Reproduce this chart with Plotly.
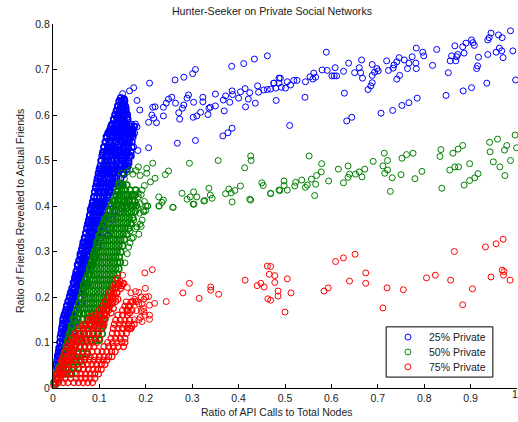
import plotly.graph_objects as go

blue_dense = [
(.004,.012),(.006,.03),(.008,.045),(.010,.06),(.012,.07),(.014,.085),(.016,.10),(.018,.12),(.020,.135),(.022,.15),(.024,.16),(.026,.165),(.028,.172),(.030,.18),(.033,.19),(.036,.20),(.040,.21),(.043,.215),(.046,.23),(.048,.245),(.050,.255),(.053,.27),(.056,.28),(.059,.295),(.062,.305),(.065,.32),(.068,.33),(.071,.34),(.074,.35),(.077,.365),(.080,.38),(.083,.395),(.086,.41),(.089,.42),(.092,.44),(.095,.455),(.098,.465),(.101,.48),(.104,.50),(.107,.515),(.110,.53),(.113,.54),(.116,.55),(.119,.56),(.122,.565),(.125,.575),(.128,.58),(.131,.59),(.134,.60),(.137,.61),(.140,.62),(.143,.63),(.146,.638),
(.012,.04),(.016,.07),(.021,.10),(.024,.125),(.029,.14),(.033,.16),(.038,.175),(.042,.19),(.047,.205),(.051,.225),(.055,.245),(.059,.26),(.063,.275),(.067,.295),(.071,.31),(.075,.325),(.079,.345),(.083,.36),(.087,.375),(.091,.395),(.095,.41),(.099,.43),(.103,.45),(.107,.47),(.111,.49),(.115,.51),(.119,.525),(.123,.54),(.127,.555),(.131,.57),(.135,.58),(.139,.595),(.143,.605),(.147,.615),(.151,.625),(.153,.635),
(.02,.06),(.026,.09),(.031,.115),(.036,.135),(.041,.155),(.046,.17),(.051,.19),(.056,.21),(.061,.23),(.066,.25),(.071,.27),(.076,.29),(.081,.305),(.086,.325),(.091,.345),(.096,.365),(.101,.385),(.106,.405),(.111,.43),(.116,.45),(.121,.475),(.126,.50),(.131,.52),(.136,.54),(.141,.555),(.146,.57),(.151,.585),(.155,.60),(.149,.60),(.144,.585),
(.03,.07),(.037,.10),(.043,.125),(.049,.145),(.055,.165),(.061,.185),(.067,.205),(.073,.23),(.079,.25),(.085,.27),(.091,.29),(.097,.31),(.103,.33),(.109,.355),(.115,.38),(.121,.405),(.127,.43),(.133,.455),(.139,.48),(.145,.505),(.150,.525),(.155,.545),(.159,.56),(.154,.575),(.137,.505),(.142,.53),(.147,.55),(.128,.475),(.122,.445),
(.098,.34),(.104,.36),(.110,.385),(.116,.41),(.122,.43),(.128,.455),(.134,.475),(.140,.50),(.146,.52),(.151,.50),(.156,.52),(.161,.54),(.165,.555),(.170,.565),(.175,.575),(.161,.515),(.157,.495),(.163,.494),(.168,.51),(.153,.47),(.148,.445),(.143,.425),(.138,.405),(.133,.39),(.128,.37),(.123,.35),(.118,.335),(.159,.535),(.162,.57),(.167,.575),(.172,.558),(.145,.545),(.150,.565),(.156,.58),(.160,.595),(.148,.58),(.152,.605),(.157,.615),(.150,.615),(.154,.63),
(.085,.30),(.09,.32),(.095,.335),(.10,.355),(.105,.375),(.112,.40),(.118,.425),(.124,.46),(.13,.49),(.135,.515),(.14,.535),(.144,.56),(.147,.59),(.125,.525),(.12,.50),(.115,.475),(.11,.455),(.105,.43),(.10,.405),(.095,.385),(.09,.365),(.085,.345),(.08,.325),(.075,.305),(.07,.285),(.065,.265),(.06,.245),(.055,.225),(.05,.205),(.045,.185),(.04,.165),(.035,.145),(.03,.125),(.025,.105),(.02,.08),(.015,.05),
]
# Dense interior of the blue band, read as rows: (ratio of friends, [ratio of API calls ...])
blue_rows = [
(.052,[.007,.012,.018]),(.071,[.010,.016,.022]),(.088,[.013,.019,.026]),(.112,[.016,.022,.030]),(.129,[.019,.026,.033]),(.152,[.022,.029,.037]),(.168,[.028,.034,.041]),(.191,[.033,.039,.046]),(.209,[.038,.044,.051]),(.232,[.044,.050,.057,.064]),(.248,[.049,.056,.063]),(.272,[.054,.061,.068,.075]),(.289,[.059,.066,.073]),(.312,[.064,.071,.078,.085]),(.328,[.069,.076,.083]),(.352,[.073,.080,.087,.094]),(.369,[.077,.084,.091]),(.392,[.081,.088,.095,.102,.11]),(.408,[.086,.093,.100,.108]),(.431,[.090,.097,.104,.112,.12]),(.449,[.094,.101,.109,.117,.126,.134]),(.472,[.098,.105,.113,.122,.131,.14,.15]),(.488,[.102,.110,.118,.127,.136,.145,.154,.161]),(.511,[.106,.114,.122,.131,.14,.149,.158,.165]),(.529,[.110,.118,.127,.135,.144,.153,.162,.17]),(.552,[.115,.123,.131,.139,.148,.157,.166,.172]),(.568,[.123,.130,.138,.146,.155,.163,.172]),(.591,[.131,.138,.146,.153,.161]),(.609,[.137,.143,.150,.157]),(.631,[.143,.148,.154]),
(.061,[.009,.015,.021]),(.079,[.012,.018,.025]),(.101,[.015,.021,.028]),(.121,[.018,.025,.032]),(.142,[.021,.028,.035]),(.159,[.025,.032,.039]),(.181,[.030,.037,.044]),(.201,[.036,.042,.049]),(.219,[.041,.047,.054,.061]),(.241,[.047,.053,.060,.067]),(.259,[.052,.058,.065,.072]),(.279,[.057,.064,.071,.078]),(.301,[.062,.069,.076,.083]),(.319,[.067,.074,.081,.088]),(.341,[.071,.078,.085,.092]),(.361,[.075,.082,.089,.096]),(.379,[.079,.086,.093,.100,.107]),(.401,[.084,.091,.098,.105,.113]),(.419,[.088,.095,.102,.110,.118]),(.441,[.092,.099,.107,.115,.123,.131]),(.461,[.096,.103,.111,.119,.128,.137,.146]),(.481,[.100,.108,.116,.125,.134,.143,.152,.159]),(.499,[.104,.112,.120,.129,.138,.147,.156,.163]),(.519,[.108,.116,.125,.133,.142,.151,.160,.168]),(.541,[.113,.121,.129,.137,.146,.155,.164,.17]),(.561,[.119,.127,.135,.143,.152,.160,.169]),(.579,[.127,.134,.142,.150,.158,.168]),(.601,[.134,.141,.148,.155,.160]),(.619,[.140,.146,.152,.156]),
]
blue_sparse = [
(.986,.785),(.944,.780),(.960,.776),(.940,.770),(.968,.770),(.937,.765),(.902,.765),(.905,.759),(.908,.753),(.890,.758),(.883,.750),(.866,.752),(.827,.744),(.783,.747),(.797,.738),(.799,.730),(.589,.738),(.991,.741),(.962,.747),(.967,.741),(.955,.738),(.937,.733),(.970,.726),(.917,.727),(.915,.708),(.913,.702),(.886,.736),(.872,.733),(.859,.730),(.856,.719),(.868,.719),(.870,.728),(.818,.709),(.852,.693),(.774,.728),(.782,.714),(.767,.714),(.764,.702),(.783,.702),(.757,.721),(.746,.726),(.741,.717),(.735,.710),(.733,.703),(.723,.698),(.719,.719),(.747,.687),(.741,.679),(.665,.721),(.637,.714),(.608,.704),(.580,.699),(.591,.698),(.562,.692),(.554,.684),(.560,.679),(.566,.683),(.544,.673),(.526,.676),(.519,.676),(.512,.666),(.505,.673),(.490,.681),(.476,.670),(.487,.670),(.480,.659),(.469,.657),(.501,.659),(.492,.661),(.626,.696),(.650,.693),(.660,.704),(.663,.693),(.667,.681),(.688,.711),(.698,.702),(.701,.697),(.693,.694),(.688,.687),(.688,.671),(.685,.664),(.679,.656),(.628,.648),(.543,.639),(.481,.632),(.606,.686),(.601,.686),(.611,.686),(.510,.577),(.633,.587),(.644,.595),(.707,.604),(.732,.610),(.752,.621),(.767,.627),(.785,.637),(.847,.643),(.884,.653),(.902,.660),(.935,.670),(.997,.677),
(.462,.730),(.434,.723),(.411,.713),(.385,.707),(.307,.700),(.301,.691),(.282,.683),(.263,.677),(.208,.670),(.174,.660),(.165,.653),(.150,.647),(.181,.632),(.187,.611),(.441,.664),(.424,.649),(.443,.650),(.414,.658),(.404,.651),(.386,.653),(.387,.645),(.400,.637),(.421,.635),(.415,.618),(.436,.626),(.476,.670),(.487,.681),(.454,.655),(.462,.656),(.350,.646),(.372,.642),(.367,.633),(.381,.628),(.369,.609),(.350,.620),(.339,.617),(.323,.639),(.323,.629),(.292,.644),(.289,.637),(.303,.628),(.256,.639),(.249,.635),(.244,.626),(.238,.617),(.264,.626),(.282,.622),(.279,.615),(.271,.605),(.238,.598),(.273,.591),(.302,.595),(.310,.598),(.318,.606),(.334,.601),(.336,.615),(.220,.618),(.215,.617),(.213,.600),(.217,.593),(.206,.584),(.223,.583),(.366,.554),(.377,.561),(.386,.571),(.307,.544),(.268,.538),(.206,.528),(.183,.522),
(.178,.58),(.181,.574),(.176,.56),(.174,.53),
]
green_dense = [
(.002,.012),(.006,.008),(.010,.02),(.014,.035),(.018,.05),(.022,.065),(.026,.08),(.030,.095),(.034,.11),(.038,.125),(.042,.135),(.047,.15),(.052,.171),(.056,.185),(.060,.20),(.064,.215),(.068,.23),(.072,.24),(.077,.248),(.081,.265),(.085,.28),(.088,.295),(.091,.303),(.095,.32),(.099,.335),(.103,.35),(.108,.36),(.112,.37),(.116,.376),(.120,.39),(.125,.40),(.130,.41),(.134,.413),(.138,.431),(.143,.45),
(.148,.395),(.154,.41),(.160,.425),(.166,.435),(.172,.425),(.178,.435),(.158,.395),(.164,.41),(.170,.40),(.176,.41),
]
# Dense interior of the green band, as rows
green_rows = [
(.031,[.006,.014,.022,.03,.04]),(.059,[.02,.03,.04,.05,.06]),(.091,[.028,.038,.048,.058,.068]),(.119,[.036,.046,.056,.066,.076,.086,.096,.106]),(.152,[.044,.054,.064,.074,.084,.094,.104,.112]),(.174,[.052,.06,.068,.076,.084,.092,.10,.108,.116]),(.198,[.06,.068,.076,.084,.092,.10,.108,.116,.122]),(.226,[.066,.074,.082,.09,.098,.106,.114,.122,.129]),(.249,[.075,.083,.091,.099,.107,.115,.123,.131,.139]),(.276,[.083,.091,.099,.107,.115,.123,.131,.139,.145]),(.299,[.09,.098,.106,.114,.122,.13,.138,.146]),(.326,[.098,.106,.114,.122,.13,.138,.146,.154]),(.351,[.107,.115,.123,.131,.139,.147,.155,.163]),(.374,[.116,.124,.132,.14,.148,.156,.164,.172]),(.401,[.126,.134,.142,.15,.158,.166,.174,.18]),(.424,[.136,.144,.152,.16,.168,.176]),(.446,[.143,.151,.159]),
(.045,[.012,.022,.034,.045,.055]),(.075,[.024,.034,.044,.054,.064,.074]),(.105,[.032,.042,.052,.062,.072,.082,.092,.1]),(.136,[.04,.05,.06,.07,.08,.09,.10,.108]),(.163,[.048,.057,.066,.075,.084,.093,.102,.11]),(.186,[.056,.064,.072,.08,.088,.096,.104,.112,.119]),(.212,[.063,.071,.079,.087,.095,.103,.111,.119,.126]),(.238,[.071,.079,.087,.095,.103,.111,.119,.127,.135]),(.262,[.079,.087,.095,.103,.111,.119,.127,.135,.142]),(.288,[.087,.095,.103,.111,.119,.127,.135,.143]),(.312,[.094,.102,.11,.118,.126,.134,.142,.15]),(.338,[.103,.111,.119,.127,.135,.143,.151,.159]),(.362,[.112,.12,.128,.136,.144,.152,.16,.168]),(.388,[.121,.129,.137,.145,.153,.161,.169,.177]),(.412,[.131,.139,.147,.155,.163,.171]),(.435,[.14,.148,.156]),
]
green_sparse = [
(.215,.494),(.184,.486),(.202,.483),(.294,.494),(.356,.500),(.426,.510),(.427,.500),(.413,.484),(.450,.451),(.453,.445),(.469,.427),(.487,.435),(.404,.444),(.379,.437),(.392,.434),(.384,.429),(.372,.427),(.386,.409),(.424,.415),(.336,.439),(.278,.428),(.289,.415),(.303,.431),(.296,.420),(.310,.420),(.302,.404),(.325,.411),(.339,.424),(.343,.417),(.228,.420),(.238,.413),(.235,.408),(.229,.400),(.259,.397),(.204,.400),(.220,.461),(.210,.453),(.197,.445),(.192,.435),(.184,.428),(.249,.477),(.242,.469),(.188,.467),(.202,.472),(.258,.397),(.228,.400),(.327,.412),(.304,.404),(.426,.413),
(.996,.556),(.958,.547),(.941,.540),(.999,.528),(.978,.533),(.973,.523),(.942,.519),(.986,.500),(.949,.497),(.963,.486),(.974,.467),(.916,.471),(.909,.462),(.898,.456),(.886,.446),(.898,.493),(.874,.486),(.866,.486),(.855,.479),(.838,.439),(.883,.533),(.873,.525),(.862,.516),(.836,.524),(.834,.509),(.795,.476),(.780,.460),(.776,.516),(.762,.513),(.752,.505),(.750,.469),(.714,.516),(.721,.500),(.711,.488),(.721,.479),(.715,.472),(.731,.462),(.727,.432),(.690,.498),(.672,.481),(.660,.475),(.652,.470),(.666,.464),(.639,.470),(.636,.488),(.615,.481),(.636,.463),(.626,.451),(.594,.455),(.579,.493),(.578,.475),(.568,.467),(.552,.510),(.557,.459),(.566,.448),(.564,.423),(.548,.446),(.544,.441),(.536,.457),(.523,.452),(.521,.444),(.505,.435),(.498,.455),(.498,.445),(.489,.434),(.469,.428),
(.148,.472),(.154,.46),(.160,.475),(.166,.479),(.172,.47),(.179,.478),(.184,.42),(.190,.425),(.197,.41),(.182,.395),(.188,.405),(.195,.39),(.200,.40),
(.173,.331),(.185,.338),(.192,.369),(.196,.387),(.204,.400),(.186,.384),(.174,.369),(.181,.354),(.170,.329),(.166,.345),(.169,.36),(.178,.35),(.190,.355),(.200,.39),(.155,.275),(.160,.295),(.163,.31),(.166,.319),(.188,.36),
]
red_dense = [
(.002,.006),(.005,.012),(.008,.025),(.011,.018),(.014,.035),(.017,.045),(.020,.03),(.023,.061),(.026,.05),(.029,.07),(.032,.06),(.035,.085),(.038,.075),(.041,.098),(.044,.085),(.047,.11),(.050,.095),(.053,.115),(.056,.105),(.059,.12),(.062,.11),(.065,.13),(.068,.12),(.071,.14),(.074,.13),(.077,.15),(.080,.157),(.083,.14),(.086,.15),(.090,.135),(.093,.155),(.096,.145),(.102,.157),(.105,.14),(.108,.15),(.112,.165),(.116,.16),(.120,.171),(.122,.18),(.124,.193),(.127,.185),(.129,.20),(.131,.208),(.134,.221),(.137,.21),(.139,.241),(.142,.225),(.145,.234),(.148,.225),(.140,.195),(.135,.19),(.130,.175),(.125,.165),
(.152,.091),(.155,.10),(.165,.13),(.170,.136),(.175,.14),(.165,.165),(.160,.17),(.166,.18),(.172,.19),
]
# Dense interior of the two red lobes, as rows
red_rows = [
(.012,[.004,.012,.022,.032,.045,.055,.065,.075,.085]),(.031,[.01,.018,.026,.036,.05,.06,.07,.08,.09,.098]),(.052,[.016,.024,.032,.042,.052,.064,.074,.084,.094,.104,.112]),(.069,[.022,.03,.04,.05,.06,.07,.08,.09,.10,.11,.12,.127]),(.091,[.03,.038,.048,.058,.068,.078,.088,.11,.12,.13,.14]),(.109,[.04,.05,.06,.07,.08,.09,.10,.125,.135,.145,.155]),(.131,[.056,.066,.076,.086,.096,.106,.13,.14,.15,.16,.168]),(.149,[.08,.09,.10,.11,.135,.145,.155,.165]),(.171,[.10,.108,.116,.15,.16,.17]),(.189,[.112,.12,.128,.158,.168]),(.209,[.122,.13,.138]),(.229,[.135,.143,.151]),
(.021,[.007,.016,.026,.038,.05,.06,.07,.08,.09]),(.041,[.013,.021,.03,.04,.055,.066,.076,.086,.096,.104]),(.061,[.019,.027,.036,.046,.056,.068,.078,.088,.098,.108,.116]),(.08,[.026,.034,.044,.054,.064,.074,.084,.096,.106,.116,.126,.134]),(.1,[.036,.044,.054,.064,.074,.084,.094,.118,.128,.138,.148]),(.12,[.048,.058,.068,.078,.088,.098,.128,.138,.148,.158]),(.14,[.066,.078,.09,.102,.11,.132,.143,.153,.163]),(.16,[.09,.1,.11,.14,.15,.16]),(.18,[.106,.114,.122,.155,.163]),(.199,[.118,.126,.134]),(.219,[.128,.136,.146]),
]
red_sparse = [
(.970,.327),(.955,.317),(.932,.310),(.865,.300),(.651,.294),(.626,.286),(.609,.278),(.674,.253),(.674,.230),(.639,.235),(.593,.220),(.584,.213),(.720,.220),(.755,.216),(.711,.176),(.805,.242),(.824,.248),(.857,.237),(.904,.218),(.883,.183),(.944,.244),(.968,.259),(.972,.256),(.971,.248),(.985,.237),(.505,.240),(.478,.247),(.478,.232),(.485,.213),(.485,.202),(.513,.209),(.500,.167),(.469,.193),(.469,.267),
(.414,.237),(.440,.225),(.448,.230),(.294,.230),(.280,.209),(.315,.197),(.340,.222),(.340,.215),(.357,.206),(.244,.190),(.214,.260),(.198,.253),(.455,.222),(.462,.268),(.466,.250),(.463,.196),
(.150,.248),(.153,.23),(.160,.221),(.175,.15),(.185,.15),(.18,.17),(.19,.17),(.178,.19),(.168,.209),
(.178,.212),(.176,.195),(.182,.19),(.185,.185),(.190,.20),(.185,.21),(.192,.146),(.188,.155),(.196,.168),(.199,.219),(.206,.201),(.219,.186),(.208,.182),(.208,.160),(.208,.151),(.192,.185),(.196,.195),(.200,.20),(.195,.175),(.198,.16),
]
series_names = ["25% Private", "50% Private", "75% Private"]
series_colors = ["#0000ff", "#008000", "#ff0000"]
x_ticks = [0, .1, .2, .3, .4, .5, .6, .7, .8, .9, 1]
x_labels = ["0", "0.1", "0.2", "0.3", "0.4", "0.5", "0.6", "0.7", "0.8", "0.9", ""]
last_x_label = "1"
y_ticks = [0, .1, .2, .3, .4, .5, .6, .7, .8]
y_labels = ["0", "0.1", "0.2", "0.3", "0.4", "0.5", "0.6", "0.7", "0.8"]
TEXT = "#222222"

def from_rows(rows):
    return [(x, y) for y, xs in rows for x in xs]

series_dense = [blue_dense + from_rows(blue_rows), green_dense + from_rows(green_rows), red_dense + from_rows(red_rows)]
series_sparse = [blue_sparse, green_sparse, red_sparse]
dense_widths = [1.6, 1.6, 1.2]

fig = go.Figure()
for name, color, dense, sparse, w in zip(series_names, series_colors, series_dense, series_sparse, dense_widths):
    pts = dense + sparse
    fig.add_trace(go.Scatter(
        x=[p[0] for p in pts], y=[p[1] for p in pts], mode="markers", name=name,
        cliponaxis=False, showlegend=False,
        marker=dict(symbol="circle-open", size=6, color=color,
                    line=dict(width=[w] * len(dense) + [1] * len(sparse), color=color)),
    ))

axis = dict(showgrid=False, zeroline=False, showline=True, linecolor="#000000", linewidth=1,
            ticks="inside", ticklen=4, tickcolor="#000000", tickwidth=1,
            tickfont=dict(size=10.5, color=TEXT))

# Compact legend (Plotly's own legend rows cannot be as tight as the reference's 15 px)
legend_rows_y = [.140, .099, .058]
shapes = [dict(type="rect", xref="paper", yref="paper", x0=.718, x1=.948, y0=.030, y1=.168,
               line=dict(color="#000000", width=1), fillcolor="white", layer="above")]
annotations = []
for name, color, ly in zip(series_names, series_colors, legend_rows_y):
    shapes.append(dict(type="circle", xref="paper", yref="paper", xsizemode="pixel", ysizemode="pixel",
                       xanchor=.765, yanchor=ly, x0=-3, x1=3, y0=-3, y1=3,
                       line=dict(color=color, width=1), layer="above"))
    annotations.append(dict(text=name, xref="paper", yref="paper", x=.806, y=ly, xanchor="left",
                            yanchor="middle", showarrow=False, font=dict(size=10.5, color=TEXT)))
annotations.append(dict(text="Ratio of Friends Revealed to Actual Friends", xref="paper", yref="paper",
                        x=-.0712, y=.486, xanchor="center", yanchor="middle", textangle=-90, showarrow=False,
                        font=dict(size=10.6, color=TEXT)))
annotations.append(dict(text="Ratio of API Calls to Total Nodes", xref="paper", yref="paper",
                        x=.4828, y=-.0659, xanchor="center", yanchor="middle", showarrow=False,
                        font=dict(size=10.5, color=TEXT)))
annotations.append(dict(text=last_x_label, xref="paper", yref="paper", x=1, y=-.0165, xanchor="right",
                        yanchor="middle", showarrow=False, xshift=1, borderpad=0, borderwidth=0,
                        font=dict(size=10.5, color=TEXT)))

fig.update_layout(
    width=518, height=422, autosize=False,
    margin=dict(l=53, r=1, t=24, b=34),
    paper_bgcolor="white", plot_bgcolor="white",
    font=dict(family="Liberation Sans, Arial, sans-serif", size=10, color=TEXT),
    title=dict(text="Hunter-Seeker on Private Social Networks", font=dict(size=10.7, color=TEXT),
               x=272/518, xanchor="center", xref="container", y=1-11/422, yanchor="middle"),
    xaxis=dict(axis, range=[0, 1], tickvals=x_ticks, ticktext=x_labels),
    yaxis=dict(axis, range=[0, .8], tickvals=y_ticks, ticktext=y_labels),
    showlegend=False, shapes=shapes, annotations=annotations,
)
fig.write_html("out.html", config={"displayModeBar": False},
               post_script="document.body.style.margin='0';document.body.style.overflow='hidden';")
